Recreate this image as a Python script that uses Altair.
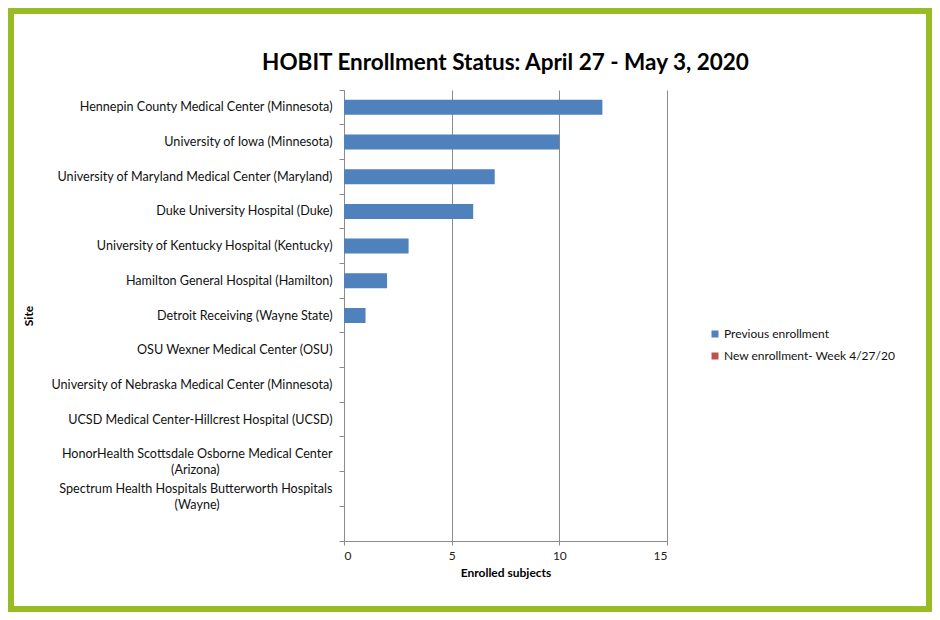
import altair as alt
import pandas as pd

sites = [
    "Hennepin County Medical Center (Minnesota)",
    "University of Iowa  (Minnesota)",
    "University of Maryland Medical Center (Maryland)",
    "Duke University Hospital (Duke)",
    "University of Kentucky Hospital (Kentucky)",
    "Hamilton General Hospital (Hamilton)",
    "Detroit Receiving (Wayne State)",
    "OSU Wexner Medical Center (OSU)",
    "University of Nebraska Medical Center (Minnesota)",
    "UCSD Medical Center-Hillcrest Hospital (UCSD)",
    "HonorHealth Scottsdale Osborne Medical Center\n(Arizona)",
    "Spectrum Health Hospitals Butterworth Hospitals\n(Wayne)",
]
blank_slot = [" "]
previous_enrollment = [12, 10, 7, 6, 3, 2, 1, 0, 0, 0, 0, 0]
new_enrollment = [0, 0, 0, 0, 0, 0, 0, 0, 0, 0, 0, 0]
series_names = ["Previous enrollment", "New enrollment- Week 4/27/20"]
series_colors = ["#4F81BD", "#C0504D"]
x_ticks = [0, 5, 10, 15]

rows = []
for s, p, n in zip(sites, previous_enrollment, new_enrollment):
    rows.append({"site": s, "series": series_names[0], "value": p, "ord": 0})
    rows.append({"site": s, "series": series_names[1], "value": n, "ord": 1})
df = pd.DataFrame(rows)

FONT = "Lato"
GRID = "#8C8C8C"
PW, PH = 323, 451
PL, PT, PR, PB = 336, 82, 265, 71
BORDER = 6
# non-breaking spaces closed by a zero-width char, so the wrapped second
# line sits centred under the first (Vega trims plain trailing spaces)
PAD2 = "\u00a0" * 35 + "\u200b"

label_expr = (
    "indexof(datum.label, '\\n') >= 0 ? "
    "[split(datum.label, '\\n')[0], split(datum.label, '\\n')[1] + '" + PAD2 + "'] "
    ": datum.label"
)

frame = alt.Chart(alt.Data(values=[{}])).mark_rect(
    fillOpacity=0, stroke="#9BBB25", strokeWidth=BORDER
).encode(
    x=alt.value(-PL + BORDER / 2), x2=alt.value(PW + PR - BORDER / 2),
    y=alt.value(-PT + BORDER / 2), y2=alt.value(PH + PB - BORDER / 2),
)

bars = alt.Chart(df).mark_bar(size=15).encode(
    y=alt.Y("site:N",
            scale=alt.Scale(domain=sites + blank_slot, paddingInner=0, paddingOuter=0),
            axis=alt.Axis(
                title="Site", titleFont=FONT, titleFontSize=12, titleFontWeight="bold",
                titleColor="#000000", titleX=-309, titleAngle=270,
                labelExpr=label_expr,
                labelFont=FONT, labelFontSize=12.6, labelColor="#111111",
                labelLimit=400, labelLineHeight=16, labelAlign="right",
                labelPadding=7,
                tickSize=5, tickColor=GRID, domainColor=GRID,
                bandPosition=1, tickExtra=True, grid=False,
            )),
    x=alt.X("value:Q", stack="zero",
            scale=alt.Scale(domain=[0, 15], nice=False),
            axis=alt.Axis(
                title="Enrolled subjects", titleFont=FONT, titleFontSize=12,
                titleFontWeight="bold", titleColor="#000000", titlePadding=6,
                values=x_ticks, labelFont=FONT, labelFontSize=12, labelColor="#222222",
                labelPadding=5, tickSize=4, tickColor=GRID, domainColor=GRID,
                grid=True, gridColor=GRID, gridWidth=1,
            )),
    color=alt.Color("series:N",
                    scale=alt.Scale(domain=series_names, range=series_colors),
                    legend=alt.Legend(
                        title=None, orient="none", legendX=365, legendY=238,
                        symbolType="square", symbolSize=49, symbolStrokeWidth=0,
                        labelFont=FONT, labelFontSize=12, labelColor="#111111",
                        labelLimit=300, rowPadding=10, labelOffset=3,
                    )),
    order=alt.Order("ord:Q"),
)

chart = alt.layer(frame, bars).properties(
    width=PW, height=PH,
    title=alt.TitleParams("HOBIT Enrollment Status: April 27 - May 3, 2020",
                          font=FONT, fontSize=22.5, fontWeight="bold",
                          color="#000000", anchor="middle", offset=0, dy=66,
                          frame="group"),
    autosize=alt.AutoSizeParams(type="none"),
    padding={"left": PL, "top": PT, "right": PR, "bottom": PB},
    background="white",
).configure_view(stroke=None)

chart.save("out.html", embed_options={"renderer": "svg", "actions": False})
